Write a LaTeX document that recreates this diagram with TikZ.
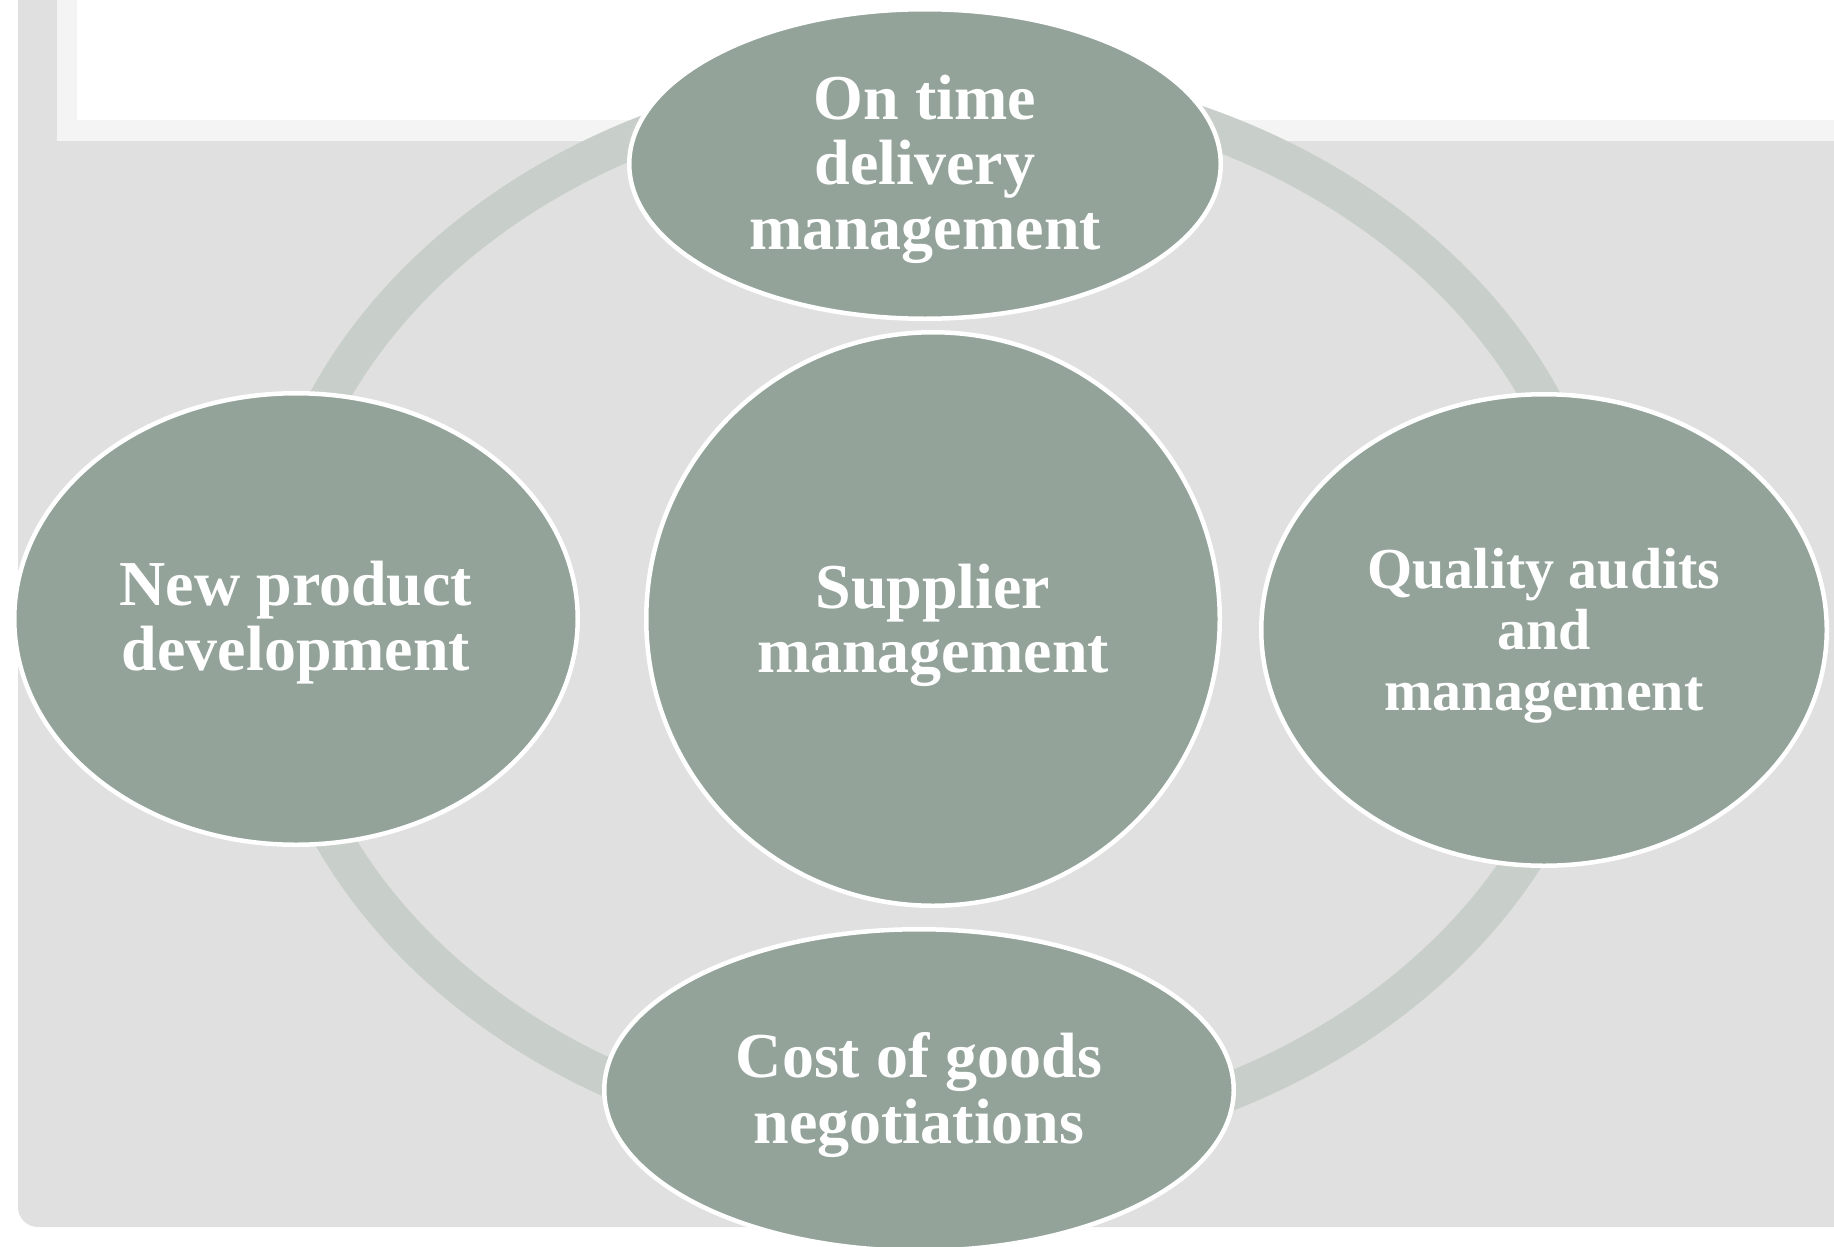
\documentclass[tikz,border=0pt]{standalone}
\usepackage{fontspec}
\setmainfont{Liberation Serif}
\usetikzlibrary{shapes.geometric}
\definecolor{sage}{HTML}{93A399}
\definecolor{ringc}{HTML}{C8CFCA}
\definecolor{panelc}{HTML}{E0E0E0}
\definecolor{framec}{HTML}{F4F4F4}
\begin{document}
\begin{tikzpicture}[x=1pt,y=-1pt,
  bub/.style={ellipse, fill=sage, draw=white, line width=4.5pt, inner sep=0pt},
  lbl/.style={text=white, font=\bfseries\fontsize{64}{65}\selectfont, align=center, inner sep=0pt},
  lbls/.style={text=white, font=\bfseries\fontsize{58}{61}\selectfont, align=center, inner sep=0pt}
]
\useasboundingbox (0,0) rectangle (1834,1247);
\fill[white] (0,0) rectangle (1834,1247);
% slide panel and title box
\fill[panelc, rounded corners=20pt] (18,-40) -- (18,1227) -- (1880,1227) -- (1880,-40) -- cycle;
\fill[framec] (57,-40) rectangle (1880,141);
\fill[white] (77,-40) rectangle (1880,120);
% cycle ring
\draw[ringc, line width=38pt] (935,614) ellipse [x radius=663, y radius=533];
% bubbles
\node[bub, minimum width=591.5pt, minimum height=309.5pt] (top) at (925,164) {};
\node[bub, minimum width=563.5pt, minimum height=451.5pt] (left) at (296,619) {};
\node[bub, minimum width=573.5pt, minimum height=573.5pt] (mid) at (933,619) {};
\node[bub, minimum width=565.5pt, minimum height=471.5pt] (right) at (1544,630) {};
\node[bub, minimum width=629.5pt, minimum height=321.5pt] (bot) at (919,1090) {};
% labels
\node[lbl] (topT) at (925,169) {On time\\delivery\\management};
\node[lbl] (leftT) at (296,623) {New product\\development};
\node[lbl, font=\bfseries\fontsize{64}{64}\selectfont] (midT) at (933,625) {Supplier\\management};
\node[lbls] (rightT) at (1544,636) {Quality audits\\and\\management};
\node[lbl, font=\bfseries\fontsize{64}{66}\selectfont] (botT) at (919,1095) {Cost of goods\\negotiations};
\end{tikzpicture}
\end{document}
